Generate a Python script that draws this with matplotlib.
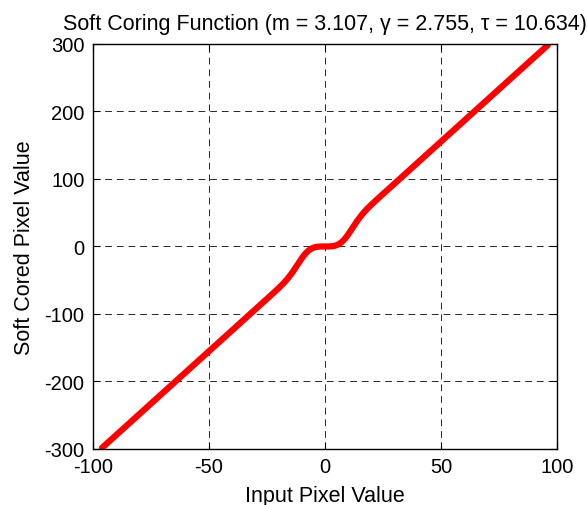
import matplotlib
matplotlib.use("Agg")
import matplotlib.pyplot as plt

plt.rcParams['font.family'] = ['Liberation Sans', 'DejaVu Sans']
plt.rcParams['axes.unicode_minus'] = False

# Values
input_values = [-96, -80, -60, -40, -30, -25, -22, -20, -18, -16, -14, -12, -11, -10, -9, -8, -7, -6, -5, -4, -3, -2, -1, 0,
                1, 2, 3, 4, 5, 6, 7, 8, 9, 10, 11, 12, 14, 16, 18, 20, 22, 25, 30, 40, 60, 80, 96]
cored_values = [-298.3, -248.6, -186.4, -124.3, -93.2, -77.7, -68.3, -61.9, -55.1, -47.4, -38.4, -28.0, -22.9, -17.7, -13.0, -9.1, -5.9, -3.5, -1.9, -0.8, -0.3, -0.1, 0.0, 0.0,
                0.0, 0.1, 0.3, 0.8, 1.9, 3.5, 5.9, 9.1, 13.0, 17.7, 22.9, 28.0, 38.4, 47.4, 55.1, 61.9, 68.3, 77.7, 93.2, 124.3, 186.4, 248.6, 298.3]
x_ticks = [-100, -50, 0, 50, 100]
y_ticks = [-300, -200, -100, 0, 100, 200, 300]

fig = plt.figure(figsize=(5.87, 5.06), dpi=100)
ax = fig.add_axes([0.158, 0.1107, 0.791, 0.8004])
ax.plot(input_values, cored_values, color='#ff0000', linewidth=4.5, solid_capstyle='round', solid_joinstyle='round')
ax.set_xlim(-100, 100)
ax.set_ylim(-300, 300)
ax.set_xticks(x_ticks)
ax.set_yticks(y_ticks)
ax.tick_params(direction='in', length=5, top=True, right=True, labelsize=14.5, width=0.8)
ax.tick_params(axis='y', pad=6)
ax.tick_params(axis='x', pad=6)
ax.grid(True, color='black', linestyle=(0, (7, 5)), linewidth=0.7, alpha=0.85)
for s in ax.spines.values():
    s.set_linewidth(1.0)
ax.set_title('Soft Coring Function (m = 3.107, γ = 2.755, τ = 10.634)', fontsize=15.5, pad=11)
ax.set_xlabel('Input Pixel Value', fontsize=15.5, labelpad=6)
ax.set_ylabel('Soft Cored Pixel Value', fontsize=15.5, labelpad=7)
fig.savefig('out.png', dpi=100)
